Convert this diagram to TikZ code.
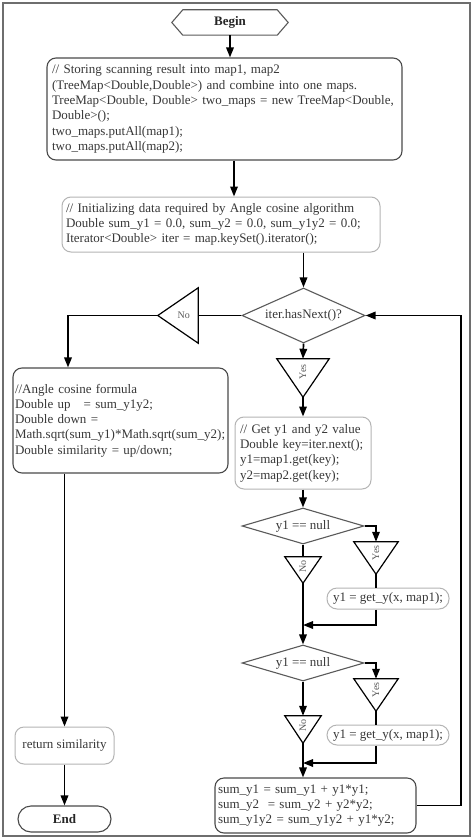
\documentclass[tikz,border=0pt]{standalone}
\usepackage{fontspec}
\setmainfont{Liberation Serif}
\usetikzlibrary{arrows.meta,calc,shapes.geometric}
\definecolor{txt}{HTML}{383838}
\definecolor{boxdark}{HTML}{4A4A4A}
\definecolor{boxlight}{HTML}{B4B4B4}
\definecolor{diac}{HTML}{5A5A5A}
\definecolor{framec}{HTML}{6E6E6E}
\definecolor{tlabc}{HTML}{5A5A5A}
\begin{document}
\begin{tikzpicture}[x=1pt,y=-1pt,
  every node/.style={text=txt, font=\fontsize{13}{15.3}\selectfont},
  darkbox/.style={draw=boxdark, line width=1.1pt, rounded corners=9pt, align=left, inner ysep=0pt},
  lightbox/.style={draw=boxlight, line width=1pt, rounded corners=9pt, align=left, inner ysep=0pt},
  dia/.style={diamond, draw=diac, line width=1.1pt, inner sep=0pt},
  tribox/.style={inner sep=0pt, draw=none},
  tri/.style={draw=black, line width=1.2pt, line join=miter},
  tlab/.style={text=tlabc, font=\fontsize{10}{12}\selectfont, inner sep=0pt},
  arr/.style={-{Triangle[length=10pt,width=7.5pt]}, line width=1.7pt},
  ln/.style={line width=1.7pt}]
\useasboundingbox (0,0) rectangle (474,840);
\fill[white] (0,0) rectangle (474,840);
\draw[framec, line width=1.5pt] (3,3) rectangle (470,836);

% Begin
\node[inner sep=0pt, minimum width=116pt, minimum height=25pt, text=black!85, font={\fontsize{13}{15.3}\selectfont\bfseries}] (begin) at (230,22.5) {Begin};
\draw[diac, line width=1.1pt] (begin.west) -- ([xshift=11pt]begin.north west) -- ([xshift=-11pt]begin.north east) -- (begin.east) -- ([xshift=-11pt]begin.south east) -- ([xshift=11pt]begin.south west) -- cycle;

% boxes
\node[darkbox, inner xsep=5pt, text width=345pt, minimum height=102pt] (box1) at (224.5,109) {// Storing scanning result into map1, map2\\(TreeMap<Double,Double>) and combine into one maps.\\TreeMap<Double, Double> two\_maps = new TreeMap<Double,\\Double>();\\two\_maps.putAll(map1);\\two\_maps.putAll(map2);};

\node[lightbox, inner xsep=4pt, text width=310pt, minimum height=55pt] (box2) at (221,224.5) {// Initializing data required by Angle cosine algorithm\\Double sum\_y1 = 0.0, sum\_y2 = 0.0, sum\_y1y2 = 0.0;\\Iterator<Double> iter = map.keySet().iterator();};

\node[dia, aspect=2.24, minimum width=123pt, minimum height=55pt] (d1) at (303.5,315.5) {iter.hasNext()?};

% No triangle 1
\node[tribox, minimum width=40pt, minimum height=55pt] (tn1) at (178,315.5) {};
\draw[tri] (tn1.north east) -- (tn1.south east) -- (tn1.west) -- cycle;
\node[tlab] (tn1t) at ($(tn1.east)!0.36!(tn1.west)$) {No};

\node[darkbox, inner xsep=2pt, text width=211pt, minimum height=105pt] (box3) at (120.5,420.5) {//Angle cosine formula\\Double up\ \ \ = sum\_y1y2;\\Double down =\\Math.sqrt(sum\_y1)*Math.sqrt(sum\_y2);\\Double similarity = up/down;};

\node[lightbox, align=center, inner xsep=0pt, minimum width=99pt, minimum height=37pt] (ret) at (64.5,745.5) {return similarity};

\node[draw=boxdark, line width=1.1pt, rounded corners=13pt, inner sep=0pt, minimum width=93pt, minimum height=26pt, text=black!85, font={\fontsize{13}{15.3}\selectfont\bfseries}] (end) at (64.5,819) {End};

% Yes triangle 1
\node[tribox, minimum width=52pt, minimum height=38pt] (ty1) at (303,378) {};
\draw[tri] (ty1.north west) -- (ty1.north east) -- (ty1.south) -- cycle;
\node[tlab, rotate=90] (ty1t) at ($(ty1.north)!0.34!(ty1.south)$) {Yes};

\node[lightbox, inner xsep=5pt, text width=126pt, minimum height=72pt] (box4) at (303,453) {// Get y1 and y2 value\\Double key=iter.next();\\y1=map1.get(key);\\y2=map2.get(key);};

\node[dia, aspect=3.39, minimum width=122pt, minimum height=36pt] (d2) at (303,526) {y1 == null};

\node[tribox, minimum width=44pt, minimum height=32pt] (ty2) at (376,558) {};
\draw[tri] (ty2.north west) -- (ty2.north east) -- (ty2.south) -- cycle;
\node[tlab, rotate=90] (ty2t) at ($(ty2.north)!0.34!(ty2.south)$) {Yes};

\node[tribox, minimum width=36pt, minimum height=26pt] (tn2) at (303,570) {};
\draw[tri] (tn2.north west) -- (tn2.north east) -- (tn2.south) -- cycle;
\node[tlab, rotate=90] (tn2t) at ($(tn2.north)!0.36!(tn2.south)$) {No};

\node[lightbox, rounded corners=10pt, align=center, inner xsep=0pt, minimum width=122pt, minimum height=21pt] (box5) at (388,598.5) {y1 = get\_y(x, map1);};

\node[dia, aspect=3.39, minimum width=122pt, minimum height=36pt] (d3) at (303,663) {y1 == null};

\node[tribox, minimum width=44pt, minimum height=32pt] (ty3) at (376,695) {};
\draw[tri] (ty3.north west) -- (ty3.north east) -- (ty3.south) -- cycle;
\node[tlab, rotate=90] (ty3t) at ($(ty3.north)!0.34!(ty3.south)$) {Yes};

\node[tribox, minimum width=36pt, minimum height=27pt] (tn3) at (303,729.5) {};
\draw[tri] (tn3.north west) -- (tn3.north east) -- (tn3.south) -- cycle;
\node[tlab, rotate=90] (tn3t) at ($(tn3.north)!0.36!(tn3.south)$) {No};

\node[lightbox, rounded corners=10pt, align=center, inner xsep=0pt, minimum width=122pt, minimum height=20pt] (box6) at (388,735) {y1 = get\_y(x, map1);};

\node[darkbox, inner xsep=3pt, text width=195pt, minimum height=55pt] (box7) at (315.5,805.5) {sum\_y1 = sum\_y1 + y1*y1;\\sum\_y2\ \ = sum\_y2 + y2*y2;\\sum\_y1y2 = sum\_y1y2 + y1*y2;};

\coordinate (m1) at (303,625);
\coordinate (m2) at (303,763);
\coordinate (lp) at (461,315.5);

% connectors
\draw[arr] (begin.south) -- (begin.south |- box1.north);
\draw[arr] ([xshift=9.5pt]box1.south) -- ([xshift=9.5pt]box1.south |- box2.north);
\draw[arr] (d1.north |- box2.south) -- (d1.north);
\draw[ln] (d1.west) -- (tn1.east);
\draw[arr] (tn1.west) -| ([xshift=-52.5pt]box3.north);
\draw[arr] (ret.north |- box3.south) -- (ret.north);
\draw[arr] (ret.south) -- (end.north);
\draw[arr] (d1.south) -- (ty1.north);
\draw[arr] (ty1.south) -- (box4.north);
\draw[arr] (box4.south) -- (d2.north);
\draw[arr] (d2.east) -| (ty2.north);
\draw[ln] (ty2.south) -- (ty2.south |- box5.north);
\draw[ln] (d2.south) -- (tn2.north);
\draw[arr] (tn2.south) -- (d3.north);
\draw[arr] (ty2.south |- box5.south) |- (m1);
\draw[arr] (d3.east) -| (ty3.north);
\draw[ln] (ty3.south) -- (ty3.south |- box6.north);
\draw[arr] (d3.south) -- (tn3.north);
\draw[arr] (tn3.south) -- (tn3.south |- box7.north);
\draw[arr] (ty3.south |- box6.south) |- (m2);
\draw[arr] (box7.east) -| (lp) -- (d1.east);
\end{tikzpicture}
\end{document}
